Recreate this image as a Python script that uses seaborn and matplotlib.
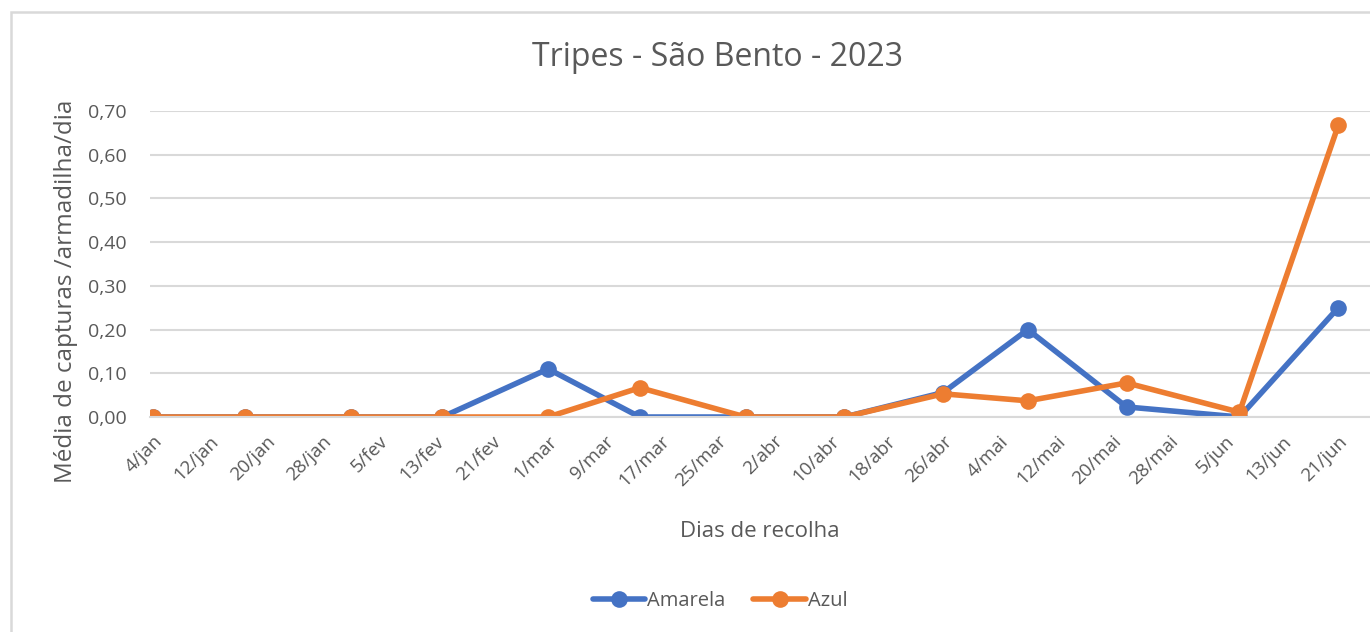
import pandas as pd
import matplotlib.pyplot as plt
import matplotlib.dates as mdates
from matplotlib.patches import Rectangle
import seaborn as sns

# Collection dates and mean captures per trap per day
datas = ['2023-01-04', '2023-01-17', '2023-02-01', '2023-02-14', '2023-03-01',
         '2023-03-14', '2023-03-29', '2023-04-12', '2023-04-26', '2023-05-08',
         '2023-05-22', '2023-06-07', '2023-06-21']
amarela = [0.0, 0.0, 0.0, 0.0, 0.11, 0.0, 0.0, 0.0, 0.056, 0.20, 0.023, 0.0, 0.25]
azul = [0.0, 0.0, 0.0, 0.0, 0.0, 0.067, 0.0, 0.0, 0.053, 0.037, 0.078, 0.011, 0.667]

tick_datas = ['2023-01-04', '2023-01-12', '2023-01-20', '2023-01-28', '2023-02-05',
              '2023-02-13', '2023-02-21', '2023-03-01', '2023-03-09', '2023-03-17',
              '2023-03-25', '2023-04-02', '2023-04-10', '2023-04-18', '2023-04-26',
              '2023-05-04', '2023-05-12', '2023-05-20', '2023-05-28', '2023-06-05',
              '2023-06-13', '2023-06-21']
tick_labels = ['4/jan', '12/jan', '20/jan', '28/jan', '5/fev', '13/fev', '21/fev',
               '1/mar', '9/mar', '17/mar', '25/mar', '2/abr', '10/abr', '18/abr',
               '26/abr', '4/mai', '12/mai', '20/mai', '28/mai', '5/jun', '13/jun',
               '21/jun']
y_ticks = [0.0, 0.1, 0.2, 0.3, 0.4, 0.5, 0.6, 0.7]

df = pd.DataFrame({
    'data': pd.to_datetime(datas * 2),
    'valor': amarela + azul,
    'armadilha': ['Amarela'] * len(datas) + ['Azul'] * len(datas),
})

sns.set_style('white')
plt.rcParams['font.family'] = ['Open Sans', 'DejaVu Sans']
cinza = '#595959'
grelha = '#D9D9D9'

fig = plt.figure(figsize=(13.7, 6.32), dpi=100)
ax = fig.add_axes([150 / 1370, 1 - 417 / 632, 1 - 150 / 1370, 306 / 632])

sns.lineplot(data=df, x='data', y='valor', hue='armadilha', ax=ax,
             palette={'Amarela': '#4472C4', 'Azul': '#ED7D31'},
             marker='o', markersize=12, markeredgewidth=0, linewidth=4)

d0 = mdates.date2num(pd.Timestamp('2023-01-04'))
ax.set_xlim(d0 - 0.43, d0 + 172.5)
ax.set_ylim(0, 0.7)
ax.set_yticks(y_ticks)
ax.set_yticklabels([f'{v:.2f}'.replace('.', ',') for v in y_ticks],
                   fontsize=14, color=cinza)
ax.set_xticks(mdates.date2num(pd.to_datetime(tick_datas)))
ax.set_xticklabels(tick_labels, rotation=45, ha='right', rotation_mode='anchor',
                   fontsize=13.5, color=cinza)
ax.tick_params(axis='x', length=6, width=1.5, color=grelha, pad=5, direction='out')
ax.tick_params(axis='y', length=0, pad=17)
ax.grid(axis='y', color=grelha, linewidth=1.5)
ax.set_axisbelow(True)
for s in ['top', 'right', 'left']:
    ax.spines[s].set_visible(False)
ax.spines['bottom'].set_color(grelha)
ax.spines['bottom'].set_linewidth(1.5)

ax.set_xlabel('Dias de recolha', fontsize=16, color=cinza, labelpad=22)
ax.set_ylabel('Média de capturas /armadilha/dia', fontsize=17.5, color=cinza)
ax.yaxis.set_label_coords(-72 / 1220, 0.41)
fig.text(718 / 1370, 1 - 57 / 632, 'Tripes - São Bento - 2023', ha='center',
         va='center', fontsize=23, color=cinza)

handles, labels = ax.get_legend_handles_labels()
ax.legend(handles, labels, loc='center', bbox_to_anchor=(720 / 1370, 1 - 601 / 632),
          bbox_transform=fig.transFigure, ncol=2, frameon=False, fontsize=14.5,
          handlelength=2.6, handletextpad=0.1, columnspacing=1.4, labelcolor=cinza)

fig.patches.append(Rectangle((11 / 1370, -0.1), 1.2, 1.081, transform=fig.transFigure,
                             fill=False, edgecolor=grelha, linewidth=1.8))

fig.savefig('out.png', dpi=100)
